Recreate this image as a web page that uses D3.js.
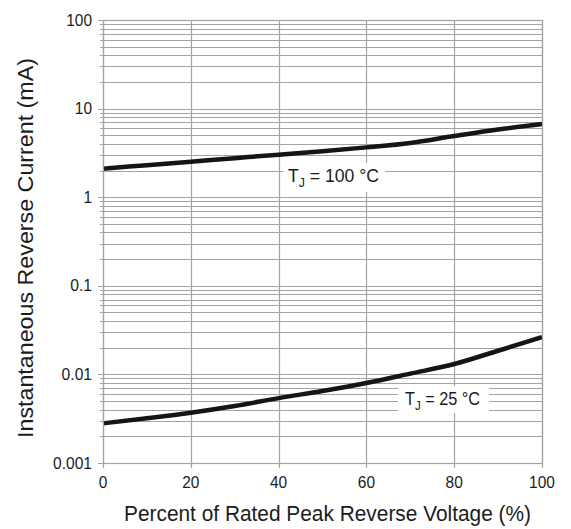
<!DOCTYPE html>
<html>
<head>
<meta charset="utf-8">
<script src="https://cdn.jsdelivr.net/npm/d3@7"></script>
<style>
  html, body { margin: 0; padding: 0; background: #fff; }
  svg { display: block; font-family: "Liberation Sans", Arial, sans-serif; }
</style>
</head>
<body>
<div id="chart"></div>
<script>
// reverse current vs percent of rated peak reverse voltage
const xPct = [0, 10, 20, 30, 40, 50, 60, 70, 80, 90, 100];
const tj100 = [2.1, 2.3, 2.52, 2.76, 3.02, 3.3, 3.65, 4.1, 4.9, 5.8, 6.7];
const tj25 = [0.0028, 0.0032, 0.0037, 0.0044, 0.0054, 0.0065, 0.008, 0.0102, 0.0131, 0.0185, 0.0264];
const xTicks = [0, 20, 40, 60, 80, 100];
const yTicks = [0.001, 0.01, 0.1, 1, 10, 100];
const yTickLabels = ["0.001", "0.01", "0.1", "1", "10", "100"];

const W = 571, H = 529;
const margin = { top: 20, right: 29, bottom: 66, left: 103 };
const w = W - margin.left - margin.right, h = H - margin.top - margin.bottom;
const GRID = "#a3a3a3", INK = "#1c1c1c";

const svg = d3.select("#chart").append("svg")
  .attr("width", W).attr("height", H).attr("viewBox", `0 0 ${W} ${H}`);
const g = svg.append("g").attr("transform", `translate(${margin.left},${margin.top})`);

const x = d3.scaleLinear().domain([0, 100]).range([0, w]);
const y = d3.scaleLog().domain([0.001, 100]).range([h, 0]);
const py = d => Math.round(y(d)) + 0.5, px = d => Math.round(x(d)) + 0.5;

// minor values 2..9 for every decade
const minor = [];
yTicks.slice(0, -1).forEach(d => { for (let k = 2; k <= 9; k++) minor.push(d * k); });

// horizontal grid
g.append("g").selectAll("line").data(minor.concat(yTicks)).join("line")
  .attr("x1", 0).attr("x2", w).attr("y1", py).attr("y2", py)
  .attr("stroke", GRID).attr("stroke-width", 1);
// vertical grid
g.append("g").selectAll("line").data(xTicks).join("line")
  .attr("y1", 0).attr("y2", h).attr("x1", px).attr("x2", px)
  .attr("stroke", GRID).attr("stroke-width", 1.2);

// left ticks
g.append("g").selectAll("line").data(minor).join("line")
  .attr("x1", -3).attr("x2", 0).attr("y1", py).attr("y2", py)
  .attr("stroke", GRID);
g.append("g").selectAll("line").data(yTicks).join("line")
  .attr("x1", -5).attr("x2", 0).attr("y1", py).attr("y2", py)
  .attr("stroke", GRID);
// bottom ticks
g.append("g").selectAll("line").data(xTicks).join("line")
  .attr("y1", h).attr("y2", h + 5).attr("x1", px).attr("x2", px)
  .attr("stroke", GRID).attr("stroke-width", 1.2);

// tick labels (condensed look via textLength)
g.append("g").selectAll("text").data(yTicks).join("text")
  .attr("x", -11).attr("y", d => y(d) + 5.5)
  .attr("text-anchor", "end").attr("font-size", 16).attr("fill", INK)
  .attr("textLength", (d, i) => yTickLabels[i].length * 8.6 - (yTickLabels[i].includes(".") ? 4 : 0))
  .attr("lengthAdjust", "spacingAndGlyphs")
  .text((d, i) => yTickLabels[i]);
g.append("g").selectAll("text").data(xTicks).join("text")
  .attr("x", d => x(d)).attr("y", h + 24.5)
  .attr("text-anchor", "middle").attr("font-size", 16).attr("fill", INK)
  .attr("textLength", d => String(d).length * 8.6).attr("lengthAdjust", "spacingAndGlyphs")
  .text(d => d);

// curves
const line = d3.line().x((d, i) => x(xPct[i])).y(d => y(d)).curve(d3.curveMonotoneX);
[tj100, tj25].forEach(s => {
  g.append("path").datum(s).attr("d", line)
    .attr("fill", "none").attr("stroke", "#151515").attr("stroke-width", 4.5);
});

// curve label boxes (white, interrupting the grid)
function tjLabel(bx, by, bw, bh, tx, ty, tw, temp) {
  g.append("rect").attr("x", bx).attr("y", by).attr("width", bw).attr("height", bh).attr("fill", "#fff");
  const t = g.append("text").attr("x", tx).attr("y", ty)
    .attr("font-size", 18.5).attr("fill", INK)
    .attr("textLength", tw).attr("lengthAdjust", "spacingAndGlyphs");
  t.append("tspan").text("T");
  t.append("tspan").attr("font-size", 13).attr("dy", 5).text("J");
  t.append("tspan").attr("dy", -5).text(` = ${temp} °C`);
}
tjLabel(283 - margin.left, 163 - margin.top, 102, 29, 288 - margin.left, 181.5 - margin.top, 91, 100);
tjLabel(398 - margin.left, 386 - margin.top, 91, 27, 405 - margin.left, 405 - margin.top, 75, 25);

// frame
g.append("rect").attr("x", 0.5).attr("y", 0.5).attr("width", w).attr("height", h)
  .attr("fill", "none").attr("stroke", GRID).attr("stroke-width", 1.2);

// axis titles
svg.append("text").attr("x", margin.left + w / 2 + 5).attr("y", 521)
  .attr("text-anchor", "middle").attr("font-size", 22.5).attr("fill", INK)
  .attr("textLength", 407).attr("lengthAdjust", "spacingAndGlyphs")
  .text("Percent of Rated Peak Reverse Voltage (%)");
svg.append("text")
  .attr("transform", `translate(33,${248}) rotate(-90)`)
  .attr("text-anchor", "middle").attr("font-size", 22.5).attr("fill", INK)
  .attr("textLength", 380).attr("lengthAdjust", "spacingAndGlyphs")
  .text("Instantaneous Reverse Current (mA)");
</script>
</body>
</html>
